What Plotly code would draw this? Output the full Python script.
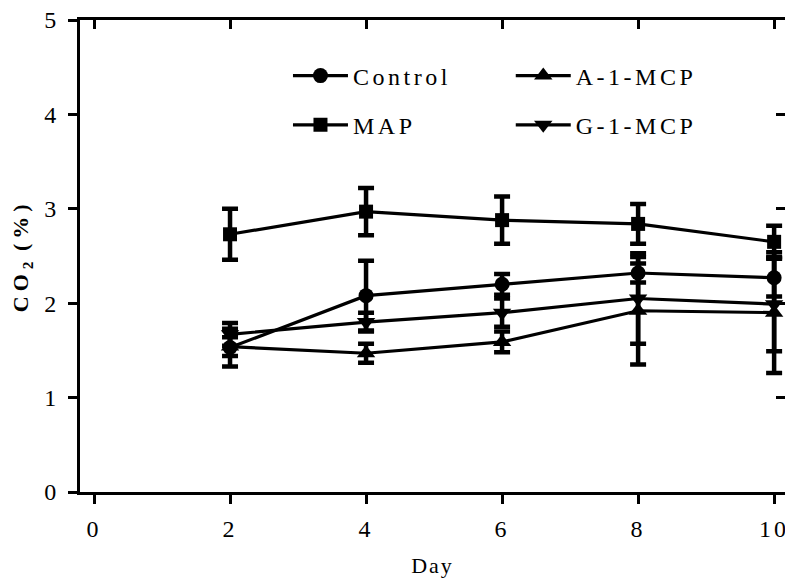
import plotly.graph_objects as go

# Headspace CO2 (%) during storage
days = [2, 4, 6, 8, 10]

control = [1.53, 2.08, 2.20, 2.32, 2.27]
control_err = [0.20, 0.37, 0.11, 0.10, 0.20]

map_pack = [2.73, 2.97, 2.88, 2.84, 2.65]
map_err = [0.27, 0.25, 0.25, 0.21, 0.17]

a_mcp = [1.54, 1.47, 1.59, 1.92, 1.90]
a_mcp_err = [0.10, 0.10, 0.11, 0.57, 0.64]

g_mcp = [1.67, 1.80, 1.90, 2.05, 1.99]
g_mcp_err = [0.12, 0.10, 0.15, 0.48, 0.50]

x_ticks = [0, 2, 4, 6, 8, 10]
y_ticks = [0, 1, 2, 3, 4, 5]

FONT = "Liberation Serif"
INK = "black"


def spaced(text, px):
    return f'<span style="letter-spacing:{px}px">{text}</span>'


series = [
    ("Control", control, control_err, "circle", 15, "legend"),
    ("MAP", map_pack, map_err, "square", 14, "legend"),
    ("A-1-MCP", a_mcp, a_mcp_err, "triangle-up", 16, "legend2"),
    ("G-1-MCP", g_mcp, g_mcp_err, "triangle-down", 16, "legend2"),
]

fig = go.Figure()
for name, vals, errs, sym, size, leg in series:
    fig.add_trace(go.Scatter(
        x=days, y=vals,
        name=spaced(name, 3.5),
        mode="lines+markers",
        line=dict(color=INK, width=3.2),
        marker=dict(symbol=sym, size=size, color=INK),
        error_y=dict(type="data", array=errs, visible=True,
                     color=INK, thickness=4.5, width=8),
        legend=leg,
        legendgroup=name,
        cliponaxis=False,
    ))

# carrier for the inward ticks on the top and right edges
fig.add_trace(go.Scatter(x=[None], y=[None], xaxis="x2", yaxis="y2",
                         showlegend=False, hoverinfo="skip"))

x_range = [-0.206, 10.16]
y_range = [0, 5]

legend_common = dict(
    font=dict(family=FONT, size=24, color=INK),
    bgcolor="rgba(0,0,0,0)",
    itemwidth=55,
    tracegroupgap=15,
    yanchor="top",
    xanchor="left",
)

fig.update_layout(
    width=785, height=579,
    margin=dict(l=80, r=0, t=20, b=87),
    paper_bgcolor="white",
    plot_bgcolor="rgba(0,0,0,0)",
    font=dict(family=FONT, color=INK),
    xaxis=dict(
        range=x_range, tickvals=x_ticks,
        ticktext=[spaced(str(v), 3) for v in x_ticks],
        ticklabeloverflow="allow",
        showgrid=False, zeroline=False,
        showline=True, linecolor=INK, linewidth=3, mirror=True,
        ticks="outside", ticklen=9, tickwidth=3, tickcolor=INK,
        ticklabelstandoff=4,
        tickfont=dict(family=FONT, size=24, color=INK),
        title=dict(text=spaced("Day", 2), standoff=17,
                   font=dict(family=FONT, size=22, color=INK)),
        automargin=False,
    ),
    yaxis=dict(
        range=y_range, tickvals=y_ticks,
        ticklabeloverflow="allow",
        showgrid=False, zeroline=False,
        showline=True, linecolor=INK, linewidth=3,
        ticks="outside", ticklen=9, tickwidth=3, tickcolor=INK,
        ticklabelstandoff=7,
        tickfont=dict(family=FONT, size=24, color=INK),
        automargin=False,
    ),
    xaxis2=dict(
        overlaying="x", side="top", anchor="y", range=x_range,
        tickvals=x_ticks, showticklabels=False, showgrid=False,
        zeroline=False, showline=False,
        ticks="inside", ticklen=9, tickwidth=3, tickcolor=INK,
    ),
    yaxis2=dict(
        overlaying="y", side="right", anchor="x", range=y_range,
        tickvals=y_ticks, showticklabels=False, showgrid=False,
        zeroline=False, showline=False,
        ticks="inside", ticklen=9, tickwidth=3, tickcolor=INK,
    ),
    legend=dict(x=0.295, y=0.929, **legend_common),
    legend2=dict(x=0.611, y=0.929, **legend_common),
    showlegend=True,
    annotations=[dict(
        text=spaced("CO", 5) + "<sub>2</sub>" + spaced(" (%)", 5),
        textangle=-90, align="left",
        xref="paper", yref="paper",
        x=-0.082, y=0.5, xanchor="center", yanchor="middle",
        showarrow=False,
        font=dict(family=FONT, size=22, color=INK, weight="bold"),
    )],
)

fig.write_html("out.html")
